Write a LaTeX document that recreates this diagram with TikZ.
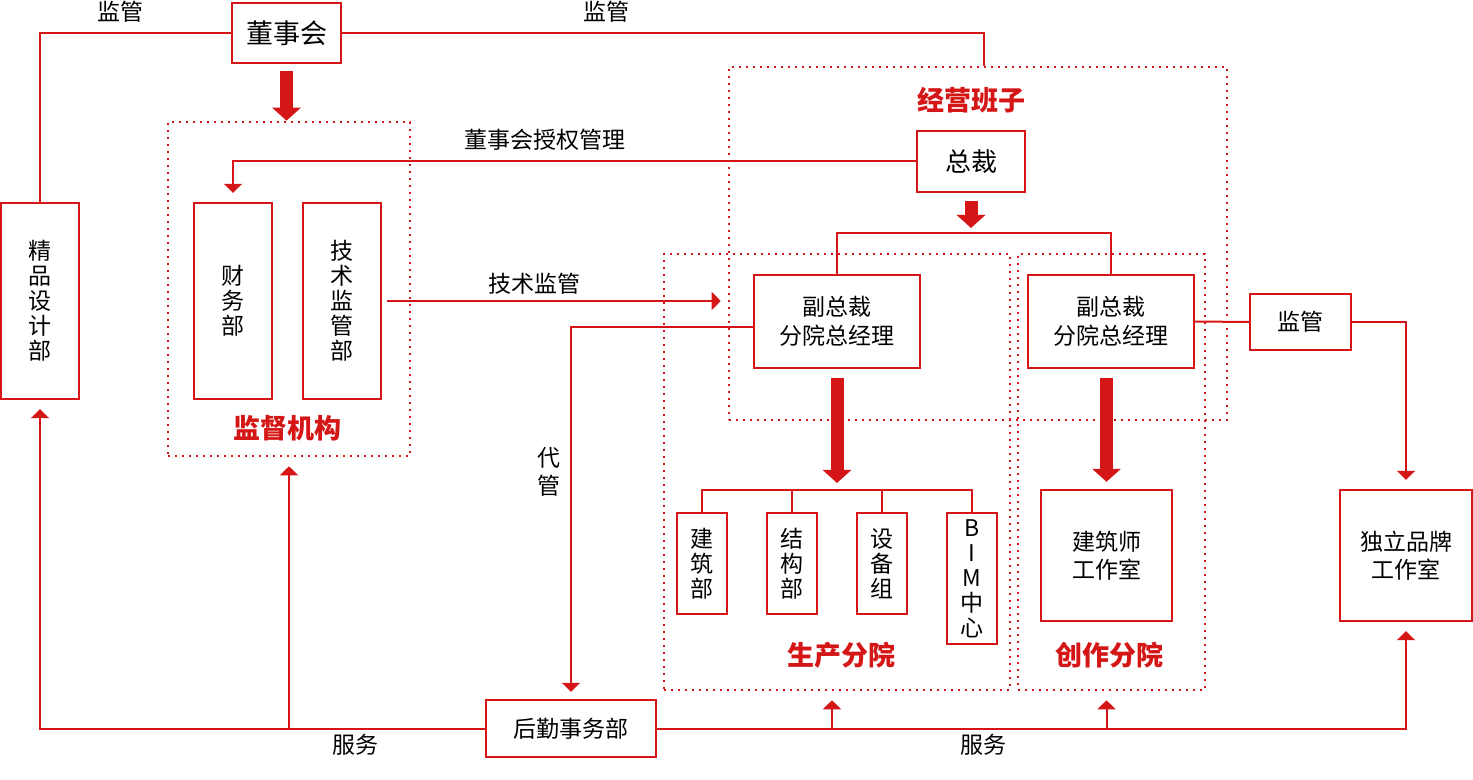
\documentclass[tikz,border=0pt]{standalone}
\usepackage{fontspec}
\setmainfont{Noto Sans CJK SC}
\usetikzlibrary{arrows.meta}
\definecolor{rouge}{HTML}{D51616}
\tikzset{
  boite/.style={draw=rouge, line width=1.2pt, align=center, inner sep=0pt, font=\fontsize{11.5}{12.5}\selectfont},
  zone/.style={draw=rouge, line width=1.3pt, dash pattern=on 1.2pt off 2.3pt, inner sep=0pt},
  titre/.style={text=rouge, font=\fontsize{13.5}{15}\selectfont\bfseries},
  etiquette/.style={font=\fontsize{11.5}{14}\selectfont, inner sep=0pt, align=center},
  lien/.style={draw=rouge, line width=1pt},
  fleche/.style={lien, -{Triangle[width=9pt,length=4.5pt]}, shorten >=4.5pt},
  grosse/.style={draw=rouge, line width=6.5pt, -{Triangle[width=14pt,length=6.5pt]}}
}
\begin{document}
\begin{tikzpicture}[x=0.5pt,y=-0.5pt]
\useasboundingbox (0,0) rectangle (1473,780);
% les zones en pointillés
\node[zone, minimum width=121pt, minimum height=167pt] (jiandu) at (289,289) {};
\node[zone, minimum width=249pt, minimum height=176.5pt] (jingying) at (978,243.5) {};
\node[zone, minimum width=173pt, minimum height=218pt] (shengchan) at (837,472) {};
\node[zone, minimum width=93.5pt, minimum height=218pt] (chuangzuo) at (1111.5,472) {};
\node[titre] (tjiandu) at (287,428) {监督机构};
\node[titre] (tjingying) at (971,100) {经营班子};
\node[titre] (tshengchan) at (841,655) {生产分院};
\node[titre] (tchuangzuo) at (1109,655) {创作分院};

% les boîtes
\node[boite, minimum width=54.5pt, minimum height=30pt, font=\fontsize{13.5}{15}\selectfont] (dongshi) at (286.5,33) {董事会};
\node[boite, minimum width=39pt, minimum height=98pt] (jingpin) at (40,301) {精\\品\\设\\计\\部};
\node[boite, minimum width=39pt, minimum height=98pt] (caiwu) at (233,301) {财\\务\\部};
\node[boite, minimum width=39pt, minimum height=98pt] (jishu) at (342,301) {技\\术\\监\\管\\部};
\node[boite, minimum width=54pt, minimum height=30.5pt, font=\fontsize{13}{15}\selectfont] (zongcai) at (971,161.5) {总裁};
\node[boite, minimum width=83pt, minimum height=46.5pt, font=\fontsize{11.5}{14.5}\selectfont] (vp1) at (837,321.5) {副总裁\\分院总经理};
\node[boite, minimum width=83pt, minimum height=46.5pt, font=\fontsize{11.5}{14.5}\selectfont] (vp2) at (1111,321.5) {副总裁\\分院总经理};
\node[boite, minimum width=50.5pt, minimum height=28pt] (jianguan) at (1300.5,322) {监管};
\node[boite, minimum width=66pt, minimum height=65.5pt, font=\fontsize{11.5}{14}\selectfont] (duli) at (1406,555.5) {独立品牌\\工作室};
\node[boite, minimum width=65.5pt, minimum height=65.5pt, font=\fontsize{11.5}{14}\selectfont] (jianzhushi) at (1106.5,555.5) {建筑师\\工作室};
\node[boite, minimum width=25pt, minimum height=50.5pt] (jianzhu) at (702,563.5) {建\\筑\\部};
\node[boite, minimum width=25pt, minimum height=50.5pt] (jiegou) at (792,563.5) {结\\构\\部};
\node[boite, minimum width=25pt, minimum height=50.5pt] (shebei) at (882,563.5) {设\\备\\组};
\node[boite, minimum width=25pt, minimum height=65.5pt] (bim) at (972,578.5) {B\\I\\M\\中\\心};
\node[boite, minimum width=85pt, minimum height=28.5pt] (houqin) at (571,728.5) {后勤事务部};

% les étiquettes des liens
\node[etiquette] (l1) at (120,12) {监管};
\node[etiquette] (l2) at (606,12) {监管};
\node[etiquette] (l3) at (545,140) {董事会授权管理};
\node[etiquette] (l4) at (534,284) {技术监管};
\node[etiquette] (l5) at (549,472) {代\\管};
\node[etiquette] (l6) at (355,745) {服务};
\node[etiquette] (l7) at (983,745) {服务};

% le conseil en haut
\draw[lien] (dongshi.west) -| (jingpin.north);
\draw[lien] (dongshi.east) -| ([xshift=3pt]jingying.north);
\draw[grosse, shorten <=3.5pt] (dongshi.south) -- (dongshi.south |- jiandu.north);
\draw[fleche] (zongcai.west) -| (caiwu.north);

% le président et les vice-présidents
\coordinate (fourche) at (971,233);
\draw[grosse, shorten <=4pt, shorten >=2.5pt] (zongcai.south) -- (fourche);
\draw[lien] (vp1.north) |- (fourche) -| (vp2.north);
\draw[fleche, shorten <=2.5pt, shorten >=3.5pt] (jishu.east) -- (jishu.east -| jingying.west);
\draw[fleche, shorten >=3.5pt] ([yshift=-3pt]vp1.west) -| (houqin.north);
\draw[lien] (vp2.east) -- (jianguan.west);
\draw[fleche] (jianguan.east) -| (duli.north);

% les départements
\coordinate (barre) at (837,490);
\draw[grosse, shorten <=4.5pt, shorten >=3.5pt] (vp1.south) -- (barre);
\draw[lien] (jianzhu.north) |- (barre) -| (bim.north);
\draw[lien] (jiegou.north) -- (jiegou.north |- barre);
\draw[lien] (shebei.north) -- (shebei.north |- barre);
\draw[grosse, shorten <=4.5pt, shorten >=3.5pt] (jianzhushi.north |- vp2.south) -- (jianzhushi.north);

% le service logistique en bas
\coordinate (pied1) at ([xshift=-2.5pt]shengchan.south);
\coordinate (pied2) at ([xshift=-2.5pt]chuangzuo.south);
\draw[fleche] (houqin.west) -| (jingpin.south);
\draw[fleche] (houqin.west -| jiandu.south) -- (jiandu.south);
\draw[fleche] (houqin.east) -| (duli.south);
\draw[fleche] (houqin.east -| pied1) -- (pied1);
\draw[fleche] (houqin.east -| pied2) -- (pied2);
\end{tikzpicture}
\end{document}
